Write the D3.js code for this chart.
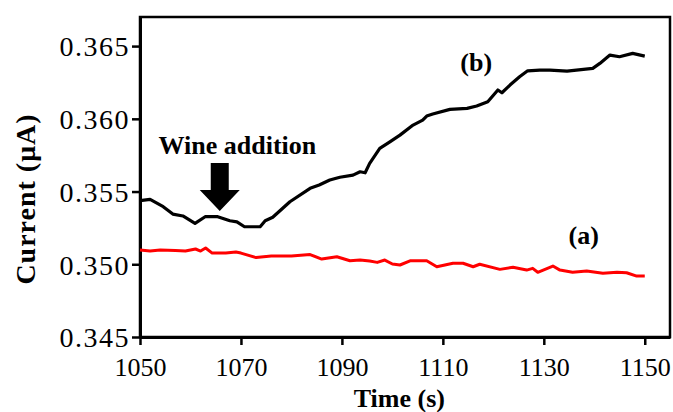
<!DOCTYPE html>
<html lang="en">
<head>
<meta charset="utf-8">
<title>Current vs time</title>
<script src="https://cdn.jsdelivr.net/npm/d3@7"></script>
<style>
  body { margin: 0; background: #fff; }
  text { font-family: "Liberation Serif", "Times New Roman", serif; fill: #000; }
</style>
</head>
<body>
<script>
// series (a): red, no wine
var timeA = [1050, 1052, 1054, 1057, 1059, 1061, 1062, 1063, 1064.3, 1067, 1069, 1070, 1073, 1076, 1080, 1083.7,
  1086, 1089, 1091.6, 1093.6, 1095.5, 1097, 1098.5, 1100, 1101.5, 1103.5, 1106.8, 1108.8, 1112, 1114, 1116,
  1117.3, 1121.3, 1123.9, 1126.6, 1127.8, 1128.8, 1131.8, 1133.2, 1135.7, 1138.5, 1141.7, 1144.5, 1146.4, 1148.4, 1150];
var currentA = [0.35098, 0.35091, 0.35098, 0.35095, 0.35091, 0.35105, 0.35091, 0.35112, 0.35077, 0.35077, 0.35084,
  0.35077, 0.35046, 0.35057, 0.35057, 0.35067, 0.35036, 0.35052, 0.35024, 0.35029, 0.35022, 0.35013, 0.35029,
  0.35002, 0.34995, 0.35024, 0.35024, 0.34983, 0.35007, 0.35007, 0.34983, 0.35000, 0.34965, 0.34979, 0.34960,
  0.34972, 0.34945, 0.34988, 0.34960, 0.34945, 0.34954, 0.34938, 0.34945, 0.34942, 0.34919, 0.34919];

// series (b): black, wine added
var timeB = [1050, 1052, 1054.6, 1056.5, 1058.5, 1060.9, 1062.9, 1065.4, 1067.8, 1069.2, 1070.7, 1073.8, 1074.8,
  1076.3, 1079.7, 1083.7, 1085.5, 1087.6, 1089.6, 1092.2, 1093.6, 1094.6, 1095.5, 1097.5, 1099.5, 1101.5, 1104.1, 1106,
  1106.8, 1108, 1111.4, 1114.8, 1116.7, 1118.9, 1120.9, 1121.7, 1123.3, 1125.2, 1126.8, 1129.2, 1131.2, 1134.6,
  1139.7, 1141.1, 1143.1, 1145, 1147.6, 1150];
var currentB = [0.35437, 0.35446, 0.35396, 0.35345, 0.35332, 0.35281, 0.35327, 0.35327, 0.35299, 0.35292, 0.35258,
  0.35258, 0.35299, 0.35323, 0.35430, 0.35522, 0.35545, 0.35579, 0.35598, 0.35613, 0.35636, 0.35629, 0.35694, 0.35797,
  0.35842, 0.35888, 0.35957, 0.35991, 0.36019, 0.36033, 0.36065, 0.36072, 0.36088, 0.36117, 0.36198, 0.36179,
  0.36232, 0.36289, 0.36330, 0.36335, 0.36335, 0.36328, 0.36347, 0.36381, 0.36438, 0.36427, 0.36450, 0.36431];

var xTicks = [1050, 1070, 1090, 1110, 1130, 1150];
var yTicks = [0.345, 0.350, 0.355, 0.360, 0.365];

/* layout */
var w = 673, h = 412;
var padL = 140, padR = 670, padT = 17, padB = 337;

var svg = d3.select("body").append("svg")
  .attr("width", w)
  .attr("height", h);

var x = d3.scaleLinear().domain([1050, 1155]).range([padL, padR]);
var y = d3.scaleLinear().domain([0.345, 0.367]).range([padB, padT]);

// plot frame
svg.append("rect")
  .attr("x", padL).attr("y", padT)
  .attr("width", padR - padL).attr("height", padB - padT)
  .attr("fill", "none").attr("stroke", "#000").attr("stroke-width", 2.5);

// axes
var xAxis = svg.append("g")
  .attr("transform", "translate(0," + padB + ")")
  .call(d3.axisBottom(x).tickValues(xTicks).tickFormat(d3.format("d")).tickSize(8).tickSizeOuter(0));
var yAxis = svg.append("g")
  .attr("transform", "translate(" + padL + ",0)")
  .call(d3.axisLeft(y).tickValues(yTicks).tickFormat(d3.format(".3f")).tickSize(8).tickSizeOuter(0));

[xAxis, yAxis].forEach(function(g) {
  g.select(".domain").attr("stroke", "#000").attr("stroke-width", 3);
  g.selectAll(".tick line").attr("stroke", "#000").attr("stroke-width", 2.5);
  g.selectAll(".tick text").style("font-family", "Liberation Serif").attr("fill", "#000");
});
xAxis.selectAll(".tick text").style("font-size", "26px").attr("dy", "1.08em");
yAxis.selectAll(".tick text").style("font-size", "28px").style("letter-spacing", "1.5px")
  .attr("x", -10).attr("dy", "0.35em");

// lines
var line = d3.line()
  .x(function(d) { return x(d[0]); })
  .y(function(d) { return y(d[1]); });

svg.append("path")
  .datum(d3.zip(timeA, currentA))
  .attr("fill", "none").attr("stroke", "#ff0000").attr("stroke-width", 3)
  .attr("stroke-linejoin", "round")
  .attr("d", line);

svg.append("path")
  .datum(d3.zip(timeB, currentB))
  .attr("fill", "none").attr("stroke", "#000").attr("stroke-width", 3.2)
  .attr("stroke-linejoin", "round")
  .attr("d", line);

// arrow for wine addition
var ax = x(1065.8), aTop = y(0.35696), aNeck = y(0.35510), aTip = y(0.35366);
svg.append("path")
  .attr("d", "M" + (ax - 9) + "," + aTop + "H" + (ax + 9) + "V" + aNeck + "H" + (ax + 20) +
    "L" + ax + "," + aTip + "L" + (ax - 20) + "," + aNeck + "H" + (ax - 9) + "Z")
  .attr("fill", "#000");

// annotations
svg.append("text")
  .attr("x", x(1069.3)).attr("y", y(0.35756))
  .attr("text-anchor", "middle").attr("font-weight", "bold").attr("font-size", 26)
  .text("Wine addition");
svg.append("text")
  .attr("x", x(1116.6)).attr("y", y(0.36328))
  .attr("text-anchor", "middle").attr("font-weight", "bold").attr("font-size", 26)
  .text("(b)");
svg.append("text")
  .attr("x", x(1137.9)).attr("y", y(0.35138))
  .attr("text-anchor", "middle").attr("font-weight", "bold").attr("font-size", 26)
  .text("(a)");

// axis titles
svg.append("text")
  .attr("x", (padL + x(1150)) / 2 + 7).attr("y", 407)
  .attr("text-anchor", "middle").attr("font-weight", "bold").attr("font-size", 26)
  .text("Time (s)");
svg.append("text")
  .attr("transform", "translate(35,199) rotate(-90)")
  .attr("text-anchor", "middle").attr("font-weight", "bold").attr("font-size", 28)
  .style("letter-spacing", "1px")
  .text("Current (μA)");
</script>
</body>
</html>
